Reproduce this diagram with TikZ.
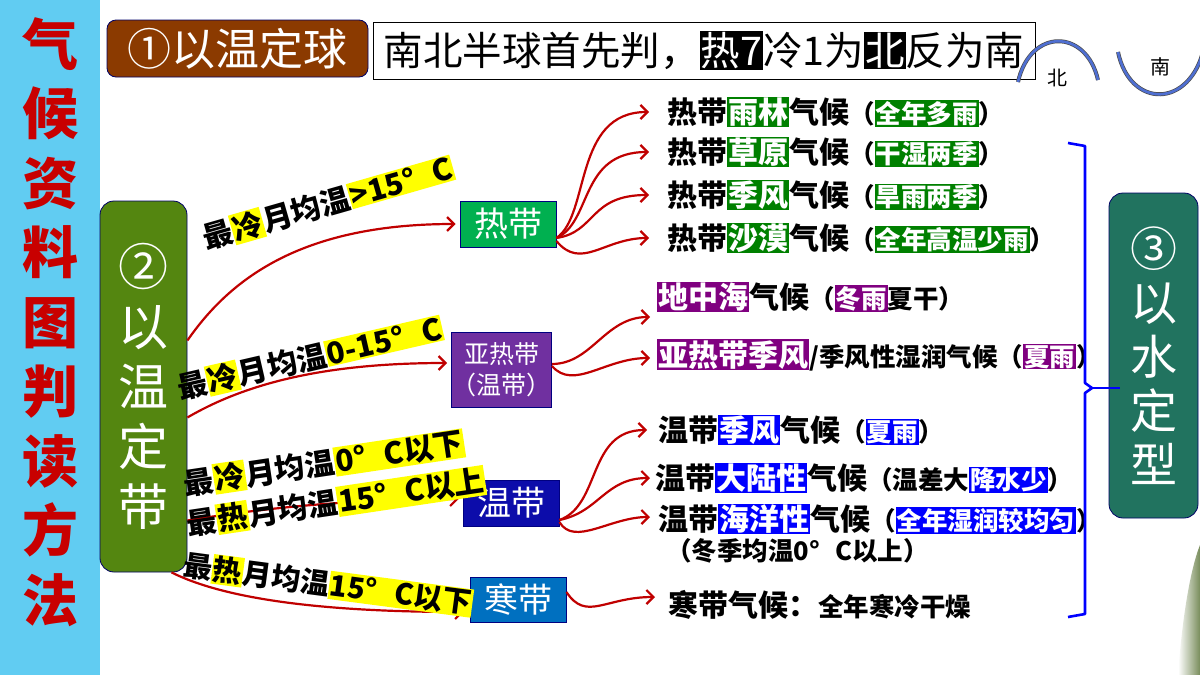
\documentclass[tikz,border=0pt]{standalone}
\usepackage{fontspec}
\setmainfont{Noto Sans CJK SC}
\usetikzlibrary{arrows.meta, positioning, calc}

\definecolor{celeste}{RGB}{97,204,242}
\definecolor{rojotit}{RGB}{200,0,0}
\definecolor{marron}{RGB}{139,58,0}
\definecolor{verdeoliva}{RGB}{84,134,16}
\definecolor{verdeagua}{RGB}{33,115,95}
\definecolor{verdere}{RGB}{0,176,80}
\definecolor{moradore}{RGB}{112,48,160}
\definecolor{azulwen}{RGB}{12,12,170}
\definecolor{azulhan}{RGB}{0,112,192}
\definecolor{verdehl}{RGB}{0,128,0}
\definecolor{moradohl}{RGB}{128,0,128}
\definecolor{azulhl}{RGB}{0,0,255}
\definecolor{amarillo}{RGB}{255,255,0}
\definecolor{rojoflecha}{RGB}{192,0,0}
\definecolor{arco}{RGB}{79,111,210}
\definecolor{verdeosc}{RGB}{120,140,90}

\newcommand{\tam}[1]{\fontsize{#1}{#1}\selectfont}
\newcommand{\detalle}{\fontsize{25.5}{28}\selectfont}
\newcommand{\hlbox}[3][white]{{\setlength{\fboxsep}{1pt}\colorbox{#2}{\textcolor{#1}{#3}}}}
\newcommand{\gradC}{°\hspace{0.6em}C}

\begin{document}
\begin{tikzpicture}[x=1pt, y=-1pt,
		% --- ESTILOS ---
		zona/.style = {draw=blue!50!black, line width=0.8pt, text=white, align=center, inner sep=0pt, minimum width=96pt, font=\tam{34}},
		rotulo/.style = {draw=blue!40!black, line width=0.8pt, rounded corners=14pt, text=white, align=center, inner sep=0pt},
		clima/.style = {anchor=west, inner sep=0pt, font=\bfseries\tam{30}},
		cond/.style = {inner sep=0pt, font=\bfseries\tam{30}},
		flecha/.style = {draw=rojoflecha, line width=2.2pt, -{Straight Barb[length=7pt, width=14pt]}},
		]
		
		\useasboundingbox (0,0) rectangle (1200,675);
		\fill[white] (0,0) rectangle (1200,675);
		
		% --- FRANJA IZQUIERDA ---
		\fill[celeste] (0,0) rectangle (100,675);
		\node[text=rojotit, font=\bfseries\fontsize{56}{69.5}\selectfont, align=center, inner sep=0pt] (titulo) at (50,322) {气\\候\\资\\料\\图\\判\\读\\方\\法};
		
		% esquina decorativa
		\shade[left color=white, right color=verdeosc] (1178,675) .. controls (1182,620) and (1190,570) .. (1200,545) -- (1200,675) -- cycle;
		
		% --- CABECERA ---
		\node[rotulo, rounded corners=9pt, fill=marron, minimum width=261pt, minimum height=57pt, font=\tam{44}] (qiu) at (237.5,48.5) {①以温定球};
		\node[draw=black, line width=0.8pt, fill=white, minimum width=662pt, minimum height=57pt, inner sep=0pt, font=\tam{39.5}] (regla) at (704,50.5) {南北半球首先判，\hlbox{black}{热7}冷1为\hlbox{black}{北}反为南};
		
		% arcos norte / sur
		\draw[line width=4pt, black!70] (1018,82) .. controls (1030,28) and (1086,28) .. (1098,80);
		\draw[line width=2.6pt, arco] (1018,82) .. controls (1030,28) and (1086,28) .. (1098,80);
		\draw[line width=4pt, black!70] (1118,52) .. controls (1130,109) and (1190,109) .. (1204,48);
		\draw[line width=2.6pt, arco] (1118,52) .. controls (1130,109) and (1190,109) .. (1204,48);
		\node[font=\tam{20}, inner sep=0pt] (bei) at (1057,78) {北};
		\node[font=\tam{20}, inner sep=0pt] (nan) at (1160,67) {南};
		
		% --- BLOQUES PRINCIPALES ---
		\node[rotulo, fill=verdeoliva, minimum width=87pt, minimum height=371pt, font=\fontsize{50}{60}\selectfont] (dai) at (143.5,386.5) {②\\以\\温\\定\\带};
		\node[rotulo, fill=verdeagua, minimum width=89pt, minimum height=325pt, font=\fontsize{47}{54}\selectfont] (shui) at (1153.5,355.5) {③\\以\\水\\定\\型};
		
		% zonas termicas
		\node[zona, fill=verdere, minimum height=46pt] (redai) at (508,224) {热带};
		\node[zona, fill=moradore, minimum width=97pt, minimum height=75pt, font=\fontsize{25}{31}\selectfont] (yare) at (501.5,370) {亚热带\\（温带）};
		\node[zona, fill=azulwen, minimum height=46pt] (wendai) at (511,503) {温带};
		\node[zona, fill=azulhan, minimum height=45pt] (handai) at (518,600) {寒带};
		
		% --- TIPOS DE CLIMA ---
		\node[clima] (tr1) at (667,112) {热带\hlbox{verdehl}{雨林}气候{\detalle （\hlbox{verdehl}{全年多雨}）}};
		\node[clima] (tr2) at (667,152) {热带\hlbox{verdehl}{草原}气候{\detalle （\hlbox{verdehl}{干湿两季}）}};
		\node[clima] (tr3) at (667,195) {热带\hlbox{verdehl}{季风}气候{\detalle （\hlbox{verdehl}{旱雨两季}）}};
		\node[clima] (tr4) at (667,238) {热带\hlbox{verdehl}{沙漠}气候{\detalle （\hlbox{verdehl}{全年高温少雨}）}};
		
		\node[clima] (st1) at (657,297) {\hlbox{moradohl}{地中海}气候{\detalle （\hlbox{moradohl}{冬雨}夏干）}};
		\node[clima] (st2) at (657,355) {\hlbox{moradohl}{亚热带季风}{\detalle /季风性湿润气候（\hlbox{moradohl}{夏雨}）}};
		
		\node[clima] (tm1) at (658,430) {温带\hlbox{azulhl}{季风}气候{\detalle （\hlbox{azulhl}{夏雨}）}};
		\node[clima] (tm2) at (655,478) {温带\hlbox{azulhl}{大陆性}气候{\detalle （温差大\hlbox{azulhl}{降水少}）}};
		\node[clima] (tm3) at (658,519) {温带\hlbox{azulhl}{海洋性}气候{\detalle （\hlbox{azulhl}{全年湿润较均匀}）}};
		\node[clima, font=\bfseries\detalle] (tm4) at (666,551) {（冬季均温0\gradC{}以上）};
		
		\node[clima] (ha1) at (668,605) {寒带气候：{\detalle 全年寒冷干燥}};
		
		% --- LLAVE HACIA ③ ---
		\coordinate (llave) at (1092,388);
		\draw[azulhl, line width=2.6pt, line join=round] (1068,143) -- (1085,146) -- (1085,383) -- (llave) -- (1085,393) -- (1085,614) -- (1068,617);
		\draw[azulhl, line width=2.6pt] (llave) -- ++(28,0);
		
		% --- FLECHAS DESDE ②  ---
		\draw[flecha] ([yshift=46pt]dai.east) .. controls +(45,-65) and +(-150,0) .. ([xshift=-4pt]redai.west);
		\draw[flecha] ([yshift=-31pt]dai.east) .. controls +(60,-35) and +(-120,0) .. ([xshift=-4pt, yshift=7pt]yare.west);
		\draw[flecha] ([yshift=-134pt]dai.east) .. controls +(90,-15) and +(-90,0) .. ([xshift=-4pt, yshift=4pt]wendai.west);
		\draw[flecha] ([xshift=28pt]dai.south) .. controls +(50,25) and +(-150,0) .. ([xshift=-6pt, yshift=-12pt]handai.west);
		
		% condiciones de temperatura
		\node[cond, rotate=16] (c1) at (328,203) {最\hlbox[black]{amarillo}{冷}月均温\hlbox[black]{amarillo}{>15\gradC}};
		\node[cond, rotate=13] (c2) at (310,358) {最\hlbox[black]{amarillo}{冷}月均温\hlbox[black]{amarillo}{0-15\gradC}};
		\node[cond, rotate=8.5] (c3) at (324,463) {最\hlbox[black]{amarillo}{冷}月均温\hlbox[black]{amarillo}{0\gradC{}以下}};
		\node[cond, rotate=8.5] (c4) at (336,502) {最\hlbox[black]{amarillo}{热}月均温\hlbox[black]{amarillo}{15\gradC{}以上}};
		\node[cond, rotate=-7.5, font=\bfseries\tam{29}] (c5) at (328,584) {最\hlbox[black]{amarillo}{热}月均温\hlbox[black]{amarillo}{15\gradC{}以下}};
		
		% --- FLECHAS HACIA LOS CLIMAS ---
		\draw[flecha] ([yshift=-14pt]redai.east) .. controls +(34,-23) and +(-76,0) .. ([xshift=-18pt]tr1.west);
		\draw[flecha] ([yshift=-14pt]redai.east) .. controls +(36,-16) and +(-70,0) .. ([xshift=-18pt]tr2.west);
		\draw[flecha] ([yshift=-14pt]redai.east) .. controls +(40,-6) and +(-60,0) .. ([xshift=-18pt]tr3.west);
		\draw[flecha] ([yshift=-17pt]redai.east) .. controls +(25,30) and +(-45,0) .. ([xshift=-18pt]tr4.west);
		
		\draw[flecha] ([yshift=6pt]yare.east) .. controls +(40,0) and +(-45,0) .. ([xshift=-7pt, yshift=-20pt]st1.west);
		\draw[flecha] ([yshift=4pt]yare.east) .. controls +(22,25) and +(-45,0) .. ([xshift=-7pt, yshift=-3pt]st2.west);
		
		\draw[flecha] ([yshift=-17pt]wendai.east) .. controls +(42,-15) and +(-60,0) .. ([xshift=-11pt]tm1.west);
		\draw[flecha] ([yshift=-17pt]wendai.east) .. controls +(40,-8) and +(-45,0) .. ([xshift=-5pt]tm2.west);
		\draw[flecha] ([yshift=-19pt]wendai.east) .. controls +(15,25) and +(-40,0) .. ([xshift=-8pt, yshift=2pt]tm3.west);
		
		\draw[flecha] ([yshift=8pt]handai.east) .. controls +(20,30) and +(-50,0) .. ([xshift=-13pt, yshift=8pt]ha1.west);
		
	\end{tikzpicture}
\end{document}
